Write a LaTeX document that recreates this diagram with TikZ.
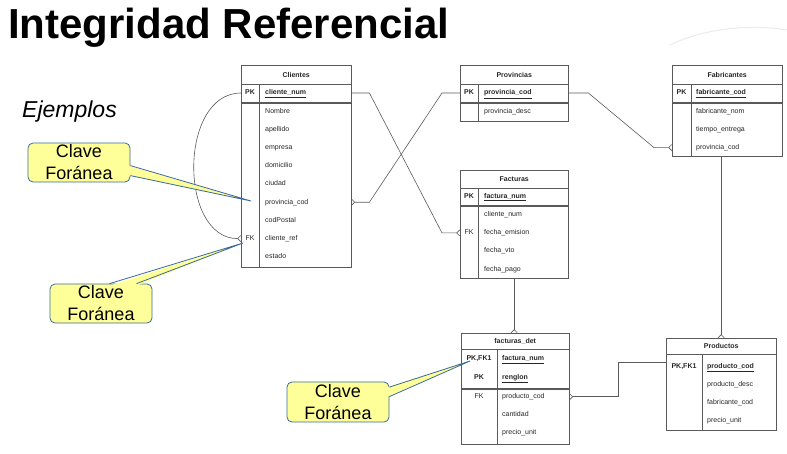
\documentclass[tikz,border=0pt]{standalone}
\usepackage{fontspec}
\setmainfont{Liberation Sans}
\usetikzlibrary{arrows.meta,calc}
\definecolor{lg}{HTML}{5A5A5A}
\definecolor{cfill}{HTML}{FFFF99}
\definecolor{cline}{HTML}{3A6A9A}
\tikzset{
    thead/.style =  {rectangle,
                    draw=lg,
                    anchor=north west,
                    text=black!85,
                    font=\fontsize{7}{8}\selectfont\bfseries,
                    inner sep=0pt},
    tbox/.style =   {rectangle,
                    draw=lg,
                    anchor=north west,
                    inner sep=0pt},
    attr/.style =   {text width=75pt,
                    align=left,
                    inner sep=0pt,
                    text height=5.2pt,
                    text depth=1.5pt,
                    text=black!85,
                    font=\fontsize{7}{8}\selectfont},
    keylbl/.style = {inner sep=0pt,
                    text height=5.2pt,
                    text depth=1.5pt,
                    text=black!85,
                    font=\fontsize{7}{8}\selectfont},
    callout/.style = {rectangle,
                    rounded corners=5pt,
                    fill=cfill,
                    draw=cline,
                    line width=0.8pt,
                    text=black,
                    align=center,
                    inner sep=0pt,
                    minimum width=102pt,
                    font=\fontsize{18}{22}\selectfont},
    -,
    tline/.style =  {draw=lg, line width=0.6pt},
    rel/.style =    {draw=lg, line width=0.6pt},
    crow/.style =   {-{Straight Barb[reversed,length=3pt,width=6pt]}},
    crowstart/.style = {{Straight Barb[reversed,length=3pt,width=6pt]}-},
    wedge/.style =  {draw=cline, line width=0.8pt, line join=round}}

\begin{document}
\begin{tikzpicture}[x=1pt,y=-1pt,node distance=18.2pt]
                \useasboundingbox (0,0) rectangle (787,453);
                \draw[black!8,line width=1pt] (670,45) .. controls (705,28) and (750,24) .. (787,30);

                % titulo
                \node[anchor=base west,inner sep=0pt] (titulo) at (8,38) {\fontsize{42}{48}\selectfont\bfseries Integridad Referencial};
                \node[anchor=base west,inner sep=0pt] (ejemplos) at (22,117) {\fontsize{23}{28}\selectfont\itshape Ejemplos};

                % Clientes
                \node[thead,minimum width=110pt,minimum height=19pt] (cliH) at (241,65) {Clientes};
                \node[tbox,minimum width=110pt,minimum height=18pt] (cliK) at (cliH.south west) {};
                \node[tbox,minimum width=110pt,minimum height=164pt] (cliB) at (cliK.south west) {};
                \draw[tline] ($(cliK.north west)+(18,0)$) -- ($(cliB.south west)+(18,0)$);
                \node[attr,anchor=west] (cliN) at (265,93) {\bfseries\underline{cliente\_num}};
                \node[attr]       (cli1) [below of=cliN]  {Nombre};
                \node[attr]       (cli2) [below of=cli1]  {apellido};
                \node[attr]       (cli3) [below of=cli2]  {empresa};
                \node[attr]       (cli4) [below of=cli3]  {domicilio};
                \node[attr]       (cli5) [below of=cli4]  {ciudad};
                \node[attr]       (cli6) [below of=cli5]  {provincia\_cod};
                \node[attr]       (cli7) [below of=cli6]  {codPostal};
                \node[attr]       (cli8) [below of=cli7]  {cliente\_ref};
                \node[attr]       (cli9) [below of=cli8]  {estado};
                \node[keylbl]     (cliPK) at (250,93)      {\bfseries PK};
                \node[keylbl]     (cliFK) at (cli8 -| cliPK) {FK};

                % Provincias
                \node[thead,minimum width=108pt,minimum height=19pt] (provH) at (460,65) {Provincias};
                \node[tbox,minimum width=108pt,minimum height=18pt] (provK) at (provH.south west) {};
                \node[tbox,minimum width=108pt,minimum height=18pt] (provB) at (provK.south west) {};
                \draw[tline] ($(provK.north west)+(18,0)$) -- ($(provB.south west)+(18,0)$);
                \node[attr,anchor=west] (provN) at (484,93) {\bfseries\underline{provincia\_cod}};
                \node[attr]       (prov1) [below of=provN] {provincia\_desc};
                \node[keylbl]     (provPK) at (469,93)     {\bfseries PK};

                % Fabricantes
                \node[thead,minimum width=110pt,minimum height=19pt] (fabH) at (672,65) {Fabricantes};
                \node[tbox,minimum width=110pt,minimum height=18pt] (fabK) at (fabH.south west) {};
                \node[tbox,minimum width=110pt,minimum height=53pt] (fabB) at (fabK.south west) {};
                \draw[tline] ($(fabK.north west)+(19,0)$) -- ($(fabB.south west)+(19,0)$);
                \node[attr,anchor=west] (fabN) at (696,93) {\bfseries\underline{fabricante\_cod}};
                \node[attr]       (fab1) [below of=fabN]  {fabricante\_nom};
                \node[attr]       (fab2) [below of=fab1]  {tiempo\_entrega};
                \node[attr]       (fab3) [below of=fab2]  {provincia\_cod};
                \node[keylbl]     (fabPK) at (681.5,93)    {\bfseries PK};

                % Facturas
                \node[thead,minimum width=108pt,minimum height=18pt] (facH) at (460,170) {Facturas};
                \node[tbox,minimum width=108pt,minimum height=17pt] (facK) at (facH.south west) {};
                \node[tbox,minimum width=108pt,minimum height=72.5pt] (facB) at (facK.south west) {};
                \draw[tline] ($(facK.north west)+(18,0)$) -- ($(facB.south west)+(18,0)$);
                \node[attr,anchor=west] (facN) at (484,196.5) {\bfseries\underline{factura\_num}};
                \node[attr]       (fac1) [below of=facN]  {cliente\_num};
                \node[attr]       (fac2) [below of=fac1]  {fecha\_emision};
                \node[attr]       (fac3) [below of=fac2]  {fecha\_vto};
                \node[attr]       (fac4) [below of=fac3]  {fecha\_pago};
                \node[keylbl]     (facPK) at (469,196.5)   {\bfseries PK};
                \node[keylbl]     (facFK) at (fac2 -| facPK) {FK};

                % facturas_det
                \node[thead,minimum width=108pt,minimum height=16pt] (detH) at (461,333) {facturas\_det};
                \node[tbox,minimum width=108pt,minimum height=39pt] (detK) at (detH.south west) {};
                \node[tbox,minimum width=108pt,minimum height=55pt] (detB) at (detK.south west) {};
                \draw[tline] ($(detK.north west)+(36,0)$) -- ($(detB.south west)+(36,0)$);
                \node[attr,anchor=west] (detN1) at (502,359) {\bfseries\underline{factura\_num}};
                \node[attr]       (detN2) [below of=detN1] {\bfseries\underline{renglon}};
                \node[attr]       (det1) [below of=detN2,node distance=19.5pt] {producto\_cod};
                \node[attr]       (det2) [below of=det1]  {cantidad};
                \node[attr]       (det3) [below of=det2]  {precio\_unit};
                \node[keylbl]     (detPK1) at (479,359)    {\bfseries PK,FK1};
                \node[keylbl]     (detPK2) at (detN2 -| detPK1) {\bfseries PK};
                \node[keylbl]     (detFK) at (det1 -| detPK1) {FK};

                % Productos
                \node[thead,minimum width=110pt,minimum height=16pt] (proH) at (666,338) {Productos};
                \node[tbox,minimum width=110pt,minimum height=76pt] (proB) at (proH.south west) {};
                \draw[tline] ($(proB.north west)+(36,0)$) -- ($(proB.south west)+(36,0)$);
                \node[attr,anchor=west] (proN) at (707,366.5) {\bfseries\underline{producto\_cod}};
                \node[attr]       (pro1) [below of=proN]  {producto\_desc};
                \node[attr]       (pro2) [below of=pro1]  {fabricante\_cod};
                \node[attr]       (pro3) [below of=pro2]  {precio\_unit};
                \node[keylbl]     (proPK) at (684,366.5)   {\bfseries PK,FK1};

                % relaciones
                \draw[rel,crow] (cliK.east |- cliN) -- ++(18,0) -- ($(facB.west |- facFK)+(-18,0)$) -- (facB.west |- facFK);
                \draw[rel,crowstart] (cliB.east |- cli6) -- ++(18,0) -- ($(provK.west |- provN)+(-18,0)$) -- (provK.west |- provN);
                \draw[rel,crow] (provK.east |- provN) -- ++(20,0) -- ($(fabB.west |- fab3)+(-18,0)$) -- (fabB.west |- fab3);
                \draw[rel,crow] (fabB.south -| proH.north) -- (proH.north);
                \draw[rel,crow] (facB.south) -- (facB.south |- detH.north);
                \draw[rel,crowstart] (detB.east |- det1) -- ++(49,0) |- ($(proB.west |- proN)+(0,-4.5)$);
                \draw[rel,crow] (cliK.west |- cliN) to[out=180,in=180,looseness=1.1] (cliB.west |- cliFK);

                % claves foraneas
                \node[callout,minimum height=39pt] (cf1) at (79,162.5) {Clave\\Foránea};
                \coordinate (cf1tip) at (251,201);
                \fill[cfill] ($(cf1.north east)+(-2,23)$) -- (cf1tip) -- ($(cf1.north east)+(-2,33)$) -- cycle;
                \draw[wedge] ($(cf1.north east)+(0,23)$) -- (cf1tip) -- ($(cf1.north east)+(0,33)$);

                \node[callout,minimum height=39pt] (cf2) at (101,303.5) {Clave\\Foránea};
                \coordinate (cf2tip) at (243,243);
                \fill[cfill] ($(cf2.north west)+(60,2)$) -- (cf2tip) -- ($(cf2.north west)+(87,2)$) -- cycle;
                \draw[wedge] ($(cf2.north west)+(60,0)$) -- (cf2tip) -- ($(cf2.north west)+(87,0)$);

                \node[callout,minimum height=40pt] (cf3) at (338,402) {Clave\\Foránea};
                \coordinate (cf3tip) at (470,361);
                \fill[cfill] ($(cf3.north east)+(-2,5.5)$) -- (cf3tip) -- ($(cf3.north east)+(-2,15)$) -- cycle;
                \draw[wedge] ($(cf3.north east)+(0,5.5)$) -- (cf3tip) -- ($(cf3.north east)+(0,15)$);
        \end{tikzpicture}
\end{document}
